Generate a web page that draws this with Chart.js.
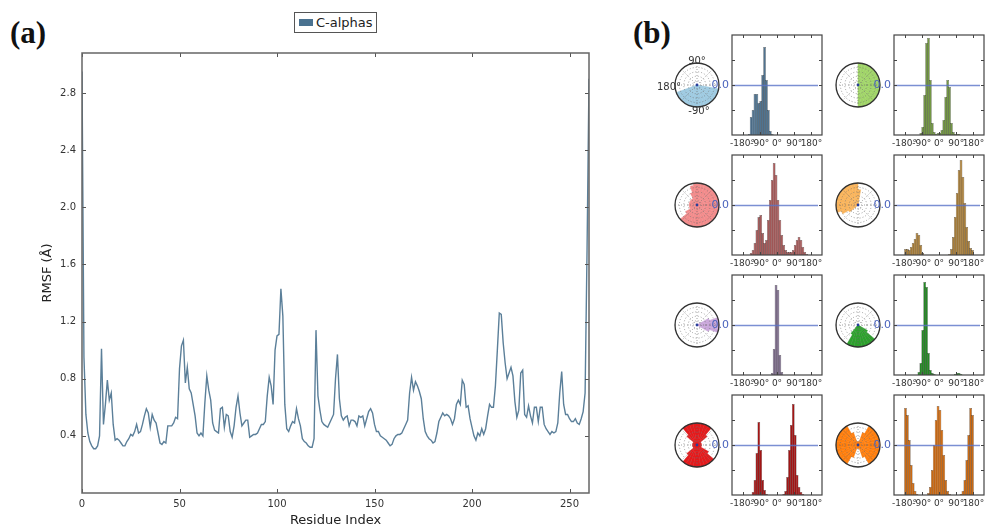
<!DOCTYPE html>
<html>
<head>
<meta charset="utf-8">
<script src="https://cdn.jsdelivr.net/npm/chart.js@4.4.1/dist/chart.umd.min.js"></script>
<style>
  html, body { margin: 0; padding: 0; background: #fff; overflow: hidden; }
  #fig { position: relative; width: 988px; height: 528px; overflow: hidden; font-family: "DejaVu Sans", sans-serif; }
  #fig canvas { position: absolute; }
  .panel { position: absolute; font-family: "Liberation Serif", serif; font-weight: bold; font-size: 31px; line-height: 30px; color: #111; }
  .legend { position: absolute; left: 294px; top: 12px; width: 81px; height: 19px; border: 1px solid #555; background: #fff;
            font-size: 13px; line-height: 19px; color: #222; box-sizing: content-box; }
  .legend i { display: inline-block; width: 14px; height: 7px; background: #4a7290; margin: 0 3px 0 4px; vertical-align: 1px; }
  .plab { position: absolute; font-size: 10px; color: #333; transform: translate(-50%, -50%); white-space: nowrap; z-index: 5; }
</style>
</head>
<body>
<div id="fig">
  <div class="panel" style="left:10px;top:18px">(a)</div>
  <div class="panel" style="left:633px;top:18px">(b)</div>
  <canvas id="rmsfChart" width="610" height="528" style="left:0;top:0"></canvas>
  <div class="legend"><i></i>C-alphas</div>
</div>
<script>
// RMSF per residue (A), residue 0..260
const residueRmsf = [
  2.95, 0.95, 0.55, 0.42, 0.36, 0.33, 0.31, 0.31, 0.33, 0.40,
  1.01, 0.48, 0.62, 0.79, 0.65, 0.70, 0.48, 0.37, 0.38, 0.37,
  0.35, 0.33, 0.33, 0.36, 0.38, 0.41, 0.40, 0.43, 0.48, 0.42,
  0.43, 0.48, 0.54, 0.59, 0.56, 0.46, 0.55, 0.51, 0.49, 0.42,
  0.35, 0.34, 0.36, 0.35, 0.47, 0.47, 0.47, 0.49, 0.53, 0.52,
  0.87, 1.03, 1.07, 0.77, 0.88, 0.73, 0.70, 0.62, 0.54, 0.42,
  0.40, 0.42, 0.40, 0.63, 0.82, 0.72, 0.65, 0.49, 0.44, 0.43,
  0.42, 0.59, 0.60, 0.46, 0.55, 0.54, 0.43, 0.39, 0.47, 0.60,
  0.68, 0.56, 0.47, 0.49, 0.51, 0.51, 0.39, 0.40, 0.41, 0.41,
  0.42, 0.45, 0.48, 0.48, 0.50, 0.68, 0.81, 0.75, 0.62, 1.00,
  1.10, 1.11, 1.43, 1.24, 0.62, 0.45, 0.43, 0.47, 0.50, 0.49,
  0.59, 0.52, 0.47, 0.38, 0.36, 0.35, 0.33, 0.32, 0.32, 0.38,
  1.14, 0.68, 0.58, 0.50, 0.48, 0.47, 0.46, 0.49, 0.52, 0.55,
  0.80, 0.97, 0.66, 0.54, 0.51, 0.53, 0.54, 0.47, 0.51, 0.51,
  0.50, 0.47, 0.54, 0.53, 0.54, 0.47, 0.52, 0.57, 0.59, 0.56,
  0.48, 0.43, 0.43, 0.40, 0.39, 0.38, 0.37, 0.35, 0.33, 0.34,
  0.38, 0.40, 0.41, 0.41, 0.42, 0.45, 0.48, 0.51, 0.70, 0.81,
  0.72, 0.78, 0.75, 0.71, 0.66, 0.52, 0.43, 0.40, 0.38, 0.37,
  0.35, 0.36, 0.42, 0.50, 0.53, 0.56, 0.54, 0.55, 0.54, 0.52,
  0.48, 0.52, 0.62, 0.65, 0.62, 0.79, 0.76, 0.60, 0.61, 0.52,
  0.46, 0.40, 0.37, 0.42, 0.40, 0.45, 0.41, 0.45, 0.54, 0.62,
  0.60, 0.60, 0.75, 1.00, 1.26, 1.25, 1.05, 0.91, 0.80, 0.84,
  0.88, 0.82, 0.64, 0.53, 0.58, 0.84, 0.86, 0.55, 0.53, 0.61,
  0.54, 0.49, 0.60, 0.60, 0.50, 0.60, 0.60, 0.48, 0.45, 0.43,
  0.41, 0.43, 0.42, 0.43, 0.49, 0.70, 0.85, 0.62, 0.55, 0.55,
  0.52, 0.50, 0.50, 0.52, 0.49, 0.48, 0.52, 0.57, 0.70, 1.70,
  2.90
];
const residueTicks = [0, 50, 100, 150, 200, 250];
const rmsfTicks = [0.4, 0.8, 1.2, 1.6, 2.0, 2.4, 2.8];

// dihedral histograms, 10 degree bins
const angleBins = [-175, -165, -155, -145, -135, -125, -115, -105, -95, -85, -75, -65, -55, -45, -35, -25, -15, -5,
                   5, 15, 25, 35, 45, 55, 65, 75, 85, 95, 105, 115, 125, 135, 145, 155, 165, 175];
const angleTicks = [-180, -90, 0, 90, 180];
const hist1 = [0,0,0,1,18,25,41,41,32,34, 60,88,55,25,4,1,0,0,0,0, 0,0,0,0,0,0,0,0,0,0, 0,0,0,0,0,0];
const hist2 = [0,0,0,0,0,0,0,0,2,8, 40,92,97,55,12,3,1,2,2,5, 15,38,55,48,12,3,1,1,1,0, 0,0,0,0,0,0];
const hist3 = [0,0,0,0,2,5,12,25,38,40, 22,12,15,35,55,75,92,80,55,35, 20,10,5,3,3,3,5,10,15,18, 15,8,3,1,0,0];
const hist4 = [6,6,5,8,12,16,22,20,10,2, 0,0,0,0,0,0,0,0,0,0, 0,0,0,1,6,18,38,62,85,95, 78,52,28,14,7,5];
const hist5 = [0,0,0,0,0,0,0,0,0,0, 0,0,0,0,0,2,26,90,85,20, 3,0,0,0,0,0,0,0,0,0, 0,0,0,0,0,0];
const hist6 = [0,0,0,0,0,0,0,3,12,45, 93,88,22,5,2,1,0,0,0,0, 0,0,0,0,0,0,1,2,2,1, 0,0,0,0,0,0];
const hist7 = [0,0,0,0,0,3,15,42,73,45, 15,5,1,0,0,0,0,0,0,0, 0,1,4,18,45,70,91,60,20,8, 3,1,0,0,0,0];
const hist8 = [87,80,55,30,12,4,1,0,0,0, 0,0,2,8,25,50,75,89,85,65, 40,15,4,1,0,0,0,0,0,1, 4,15,35,60,87,80];

// polar plots: filled radius per 10 degree sector, counter-clockwise from 0 degrees
const sectorAngles = [0,10,20,30,40,50,60,70,80,90,100,110,120,130,140,150,160,170,
                      180,190,200,210,220,230,240,250,260,270,280,290,300,310,320,330,340,350];
const polar1 = [0,0,0,0,0,0,0,0,0,0, 0,0,0,0,0,0,0,0,0,0, 1,1,1,1,1,1,1,1,1,1, 1,1,1,1,1,0];
const polar2 = [1,1,1,1,1,1,1,1,1,0, 0,0,0,0,0,0,0,0,0,0, 0,0,0,0,0,0,0,1,1,1, 1,1,1,1,1,1];
const polar3 = [1,1,1,1,1,1,1,1,1,1, 0.9,0.6,0.35,0.35,0.35,0.35,0.35,0.35,0.35,0.35, 0.35,0.6,1,1,1,1,1,1,1,1, 1,1,1,1,1,1];
const polar4 = [0,0,0,0,0,0,0,0,0.7,1, 1,1,1,1,1,1,1,1,1,1, 0.8,0.5,0,0,0,0,0,0,0,0, 0,0,0,0,0,0];
const polar5 = [1,1,0.6,0,0,0,0,0,0,0, 0,0,0,0,0,0,0,0,0,0, 0,0,0,0,0,0,0,0,0,0, 0,0,0,0.6,1,1];
const polar6 = [0,0,0,0,0,0,0,0,0,0, 0,0,0,0,0,0,0,0,0,0, 0,0,0,0.5,1,1,1,1,1,1, 1,1,0.5,0,0,0];
const polar7 = [0.2,0.2,0.2,0.2,0.6,1,1,1,1,1, 1,1,1,0.6,0.2,0.2,0.2,0.2,0.2,0.2, 0.2,0.2,0.6,1,1,1,1,1,1,1, 1,1,0.6,0.2,0.2,0.2];
const polar8 = [1,1,1,1,1,1,0.6,0.15,0.15,0.15, 0.15,0.6,1,1,1,1,1,1,1,1, 1,1,1,1,0.6,0.15,0.15,0.15,0.15,0.6, 1,1,1,1,1,1];

const panels = [
  { hist: hist1, polar: polar1, bar: '#4f7390', fill: '#9ecae1', col: 0, row: 0 },
  { hist: hist2, polar: polar2, bar: '#739843', fill: '#a0d468', col: 1, row: 0 },
  { hist: hist3, polar: polar3, bar: '#a65a5a', fill: '#f28b8b', col: 0, row: 1 },
  { hist: hist4, polar: polar4, bar: '#a87e3a', fill: '#f9b45c', col: 1, row: 1 },
  { hist: hist5, polar: polar5, bar: '#7a6a88', fill: '#c9a6da', col: 0, row: 2 },
  { hist: hist6, polar: polar6, bar: '#228b22', fill: '#2ca02c', col: 1, row: 2 },
  { hist: hist7, polar: polar7, bar: '#a31515', fill: '#e31a1c', col: 0, row: 3 },
  { hist: hist8, polar: polar8, bar: '#cc6a12', fill: '#ff7f0e', col: 1, row: 3 }
];

const fig = document.getElementById('fig');
function addCanvas(left, top, w, h) {
  const c = document.createElement('canvas');
  c.width = w; c.height = h;
  c.style.left = left + 'px'; c.style.top = top + 'px';
  fig.appendChild(c);
  return c;
}

// box frame + inward tick marks on all four sides (matplotlib classic look)
const frameTicks = {
  id: 'frameTicks',
  afterDraw(chart, args, opts) {
    const { ctx, chartArea: a, scales } = chart;
    const len = opts.len || 4;
    ctx.save();
    ctx.strokeStyle = opts.color || '#444';
    ctx.lineWidth = 1;
    ctx.beginPath();
    opts.xTicks.forEach(v => {
      const px = Math.round(scales.x.getPixelForValue(v)) + 0.5;
      ctx.moveTo(px, a.bottom); ctx.lineTo(px, a.bottom - len);
      ctx.moveTo(px, a.top); ctx.lineTo(px, a.top + len);
    });
    opts.yTicks.forEach(v => {
      const py = Math.round(scales.y.getPixelForValue(v)) + 0.5;
      ctx.moveTo(a.left, py); ctx.lineTo(a.left + len, py);
      ctx.moveTo(a.right, py); ctx.lineTo(a.right - len, py);
    });
    ctx.stroke();
    ctx.strokeStyle = opts.frameColor || '#444';
    ctx.lineWidth = opts.frameWidth || 1.2;
    ctx.strokeRect(a.left, a.top, a.right - a.left, a.bottom - a.top);
    ctx.restore();
  }
};

const midLine = {
  id: 'midLine',
  afterDatasetsDraw(chart) {
    const { ctx, chartArea: a } = chart;
    const y = Math.round((a.top + a.bottom) / 2) + 0.5;
    ctx.save();
    ctx.strokeStyle = 'rgba(90,115,200,0.8)';
    ctx.lineWidth = 1.6;
    ctx.beginPath(); ctx.moveTo(a.left + 1, y); ctx.lineTo(a.right - 4, y); ctx.stroke();
    ctx.fillStyle = '#4a63bd';
    ctx.font = '11px "DejaVu Sans"';
    ctx.textAlign = 'right'; ctx.textBaseline = 'middle';
    ctx.fillText('0.0', a.left - 3, y);
    ctx.restore();
  }
};

const polarGrid = {
  id: 'polarGrid',
  afterDatasetsDraw(chart) {
    const s = chart.scales.r, ctx = chart.ctx;
    const cx = s.xCenter, cy = s.yCenter, R = s.drawingArea;
    ctx.save();
    ctx.strokeStyle = 'rgba(110,110,110,0.8)';
    ctx.lineWidth = 0.8;
    ctx.setLineDash([1, 2]);
    [0.2, 0.4, 0.6, 0.8].forEach(f => { ctx.beginPath(); ctx.arc(cx, cy, R * f, 0, 2 * Math.PI); ctx.stroke(); });
    for (let k = 0; k < 8; k++) {
      const t = k * Math.PI / 4;
      ctx.beginPath(); ctx.moveTo(cx, cy); ctx.lineTo(cx + R * Math.cos(t), cy + R * Math.sin(t)); ctx.stroke();
    }
    ctx.setLineDash([]);
    ctx.strokeStyle = '#333'; ctx.lineWidth = 1.3;
    ctx.beginPath(); ctx.arc(cx, cy, R, 0, 2 * Math.PI); ctx.stroke();
    ctx.fillStyle = '#2a3f9a';
    ctx.beginPath(); ctx.arc(cx, cy, 1.4, 0, 2 * Math.PI); ctx.fill();
    ctx.restore();
  }
};

// (a) RMSF line chart
new Chart(document.getElementById('rmsfChart'), {
  type: 'line',
  data: {
    datasets: [{
      label: 'C-alphas',
      data: residueRmsf.map((v, i) => ({ x: i, y: v })),
      borderColor: '#5b7f99',
      borderWidth: 1.4,
      pointRadius: 0,
      tension: 0,
      fill: false
    }]
  },
  options: {
    responsive: false,
    animation: false,
    events: [],
    layout: { padding: { left: 34, top: 53, right: 21, bottom: 0 } },
    plugins: {
      legend: { display: false },
      tooltip: { enabled: false },
      frameTicks: { xTicks: residueTicks, yTicks: rmsfTicks, len: 4, color: '#555', frameColor: '#666', frameWidth: 1.5 }
    },
    scales: {
      x: {
        type: 'linear', min: 0, max: 260,
        grid: { display: false, drawTicks: false },
        border: { display: false },
        afterBuildTicks: s => { s.ticks = residueTicks.map(v => ({ value: v })); },
        afterFit: s => { s.height = 35; },
        ticks: { font: { family: 'DejaVu Sans', size: 10 }, color: '#333', padding: 5, maxRotation: 0, autoSkip: false },
        title: { display: true, text: 'Residue Index', font: { family: 'DejaVu Sans', size: 13 }, color: '#222', padding: { top: 0, bottom: 0 } }
      },
      y: {
        min: 0, max: 3.08,
        grid: { display: false, drawTicks: false },
        border: { display: false },
        afterBuildTicks: s => { s.ticks = rmsfTicks.map(v => ({ value: v })); },
        afterFit: s => { s.width = 48; },
        ticks: { font: { family: 'DejaVu Sans', size: 10 }, color: '#333', padding: 6, callback: v => v.toFixed(1) },
        title: { display: true, text: 'RMSF (Å)', font: { family: 'DejaVu Sans', size: 13 }, color: '#222', padding: { top: 6, bottom: 0 } }
      }
    }
  },
  plugins: [frameTicks]
});

// (b) polar plots first, histograms on top so the "0.0" labels overlap them
const boxLeft = [732, 894];
const polarX = [697, 858];
const rowTop = [35, 155, 275, 395];

panels.forEach(p => {
  const cy = rowTop[p.row] + 50;
  const c = addCanvas(polarX[p.col] - 24, cy - 24, 48, 48);
  new Chart(c, {
    type: 'polarArea',
    data: {
      labels: sectorAngles,
      datasets: [{
        data: p.polar.slice().reverse(),
        backgroundColor: p.fill,
        borderColor: p.fill,
        borderWidth: 0.5
      }]
    },
    options: {
      responsive: false,
      animation: false,
      events: [],
      layout: { padding: 2 },
      plugins: { legend: { display: false }, tooltip: { enabled: false } },
      scales: {
        r: {
          min: 0, max: 1, startAngle: 90,
          ticks: { display: false },
          grid: { display: false },
          angleLines: { display: false },
          pointLabels: { display: false }
        }
      }
    },
    plugins: [polarGrid]
  });
});

panels.forEach(p => {
  const left = boxLeft[p.col];
  const top = rowTop[p.row];
  const c = addCanvas(left - 24, top - 3, 138, 121);
  new Chart(c, {
    type: 'bar',
    data: {
      datasets: [{
        data: p.hist.map((v, i) => ({ x: angleBins[i], y: v })),
        backgroundColor: p.bar,
        borderColor: 'rgba(15,15,15,0.75)',
        borderWidth: 0.5,
        barThickness: 2.7,
        inflateAmount: 0
      }]
    },
    options: {
      responsive: false,
      animation: false,
      events: [],
      layout: { padding: { left: 24, right: 24, top: 3, bottom: 0 } },
      plugins: {
        legend: { display: false },
        tooltip: { enabled: false },
        frameTicks: { xTicks: angleTicks, yTicks: [25, 50, 75], len: 3, color: '#444', frameColor: '#444', frameWidth: 1.2 }
      },
      scales: {
        x: {
          type: 'linear', min: -188, max: 188,
          grid: { display: false, drawTicks: false },
          border: { display: false },
          afterBuildTicks: s => { s.ticks = angleTicks.map(v => ({ value: v })); },
          afterFit: s => { s.height = 18; },
          ticks: { font: { family: 'DejaVu Sans', size: 9 }, color: '#333', padding: 3, maxRotation: 0, autoSkip: false, callback: v => v + '°' }
        },
        y: { display: false, min: 0, max: 100 }
      }
    },
    plugins: [midLine, frameTicks]
  });
});

// angle labels on the first polar plot
[['90°', 697, 60], ['180°', 669, 86], ['-90°', 699, 110]].forEach(([t, x, y]) => {
  const d = document.createElement('div');
  d.className = 'plab';
  d.textContent = t;
  d.style.left = x + 'px'; d.style.top = y + 'px';
  fig.appendChild(d);
});
</script>
</body>
</html>
